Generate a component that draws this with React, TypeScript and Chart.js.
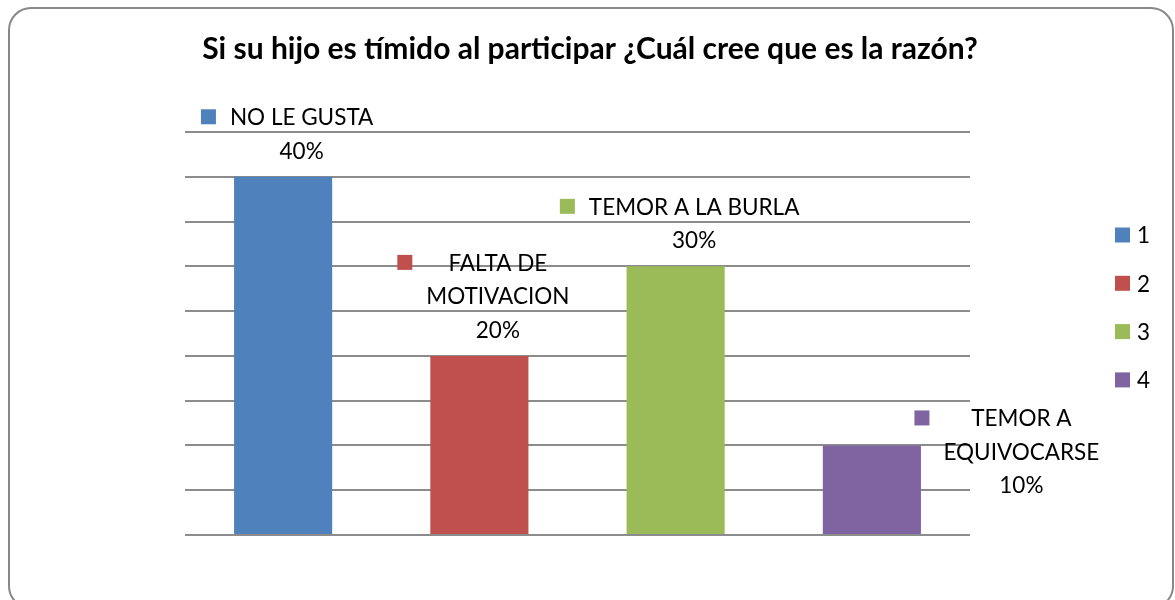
import { useEffect, useRef } from 'react';
import { Chart, registerables } from 'chart.js';

Chart.register(...registerables);

const TITLE = 'Si su hijo es tímido al participar ¿Cuál cree que es la razón?';
const categories = ['1', '2', '3', '4'];
const reasonLines = [['NO LE GUSTA'], ['FALTA DE', 'MOTIVACION'], ['TEMOR A LA BURLA'], ['TEMOR A', 'EQUIVOCARSE']];
const values = [40, 20, 30, 10];
const percentLabels = ['40%', '20%', '30%', '10%'];
const colors = ['#4F81BD', '#C0504D', '#9BBB59', '#8064A2'];
const labelOffsets = [[4, 0], [4, 0], [4, 0], [135, 66]];
const Y_MAX = 45;
const Y_STEP = 5;

const FONT = 'Lato, "Open Sans", sans-serif';

const decorPlugin = {
  id: 'decor',
  afterDraw(chart: any) {
    const ctx = chart.ctx as CanvasRenderingContext2D;
    ctx.save();
    // frame
    ctx.strokeStyle = '#888888';
    ctx.lineWidth = 2;
    ctx.beginPath();
    (ctx as any).roundRect(9, 8, 1164, 600, 22);
    ctx.stroke();

    // title
    ctx.fillStyle = '#000';
    ctx.textBaseline = 'middle';
    ctx.textAlign = 'center';
    ctx.font = `bold 30px ${FONT}`;
    ctx.fillText(TITLE, 590, 49);

    // data labels
    const meta = chart.getDatasetMeta(0);
    const fontSize = 22.5;
    const lineH = 33.5;
    const keySize = 15;
    const gap = 14;
    ctx.font = `${fontSize}px ${FONT}`;
    meta.data.forEach((bar: any, i: number) => {
      const lines = [...reasonLines[i], percentLabels[i]];
      const widths = lines.map((l) => ctx.measureText(l).width);
      const w = Math.max(...widths);
      const blockW = keySize + gap + w;
      const cx = bar.x + labelOffsets[i][0];
      const left = cx - blockW / 2;
      const textCx = left + keySize + gap + w / 2;
      const lastY = bar.y - 26.5 + labelOffsets[i][1];
      const firstY = lastY - (lines.length - 1) * lineH;
      ctx.fillStyle = colors[i];
      ctx.fillRect(left, firstY - keySize / 2, keySize, keySize);
      ctx.fillStyle = '#000';
      ctx.textAlign = 'center';
      lines.forEach((l, k) => ctx.fillText(l, textCx, firstY + k * lineH + 1));
    });

    // legend
    ctx.textAlign = 'left';
    categories.forEach((c, i) => {
      const y = 235 + i * 48.3;
      ctx.fillStyle = colors[i];
      ctx.fillRect(1115, y - 7.5, 15, 15);
      ctx.fillStyle = '#000';
      ctx.fillText(c, 1137, y + 1);
    });
    ctx.restore();
  },
};

export default function App() {
  const ref = useRef<HTMLCanvasElement>(null);
  useEffect(() => {
    if (!ref.current) return;
    const chart = new Chart(ref.current, {
      type: 'bar',
      data: {
        labels: categories,
        datasets: [
          {
            data: values,
            backgroundColor: colors,
            borderWidth: 0,
            categoryPercentage: 1,
            barPercentage: 0.5,
          },
        ],
      },
      options: {
        responsive: false,
        animation: false,
        layout: { padding: { left: 185, right: 205, top: 132, bottom: 65 } },
        plugins: { legend: { display: false }, tooltip: { enabled: false }, title: { display: false } },
        scales: {
          x: { display: false },
          y: {
            min: 0,
            max: Y_MAX,
            ticks: { display: false, stepSize: Y_STEP },
            grid: { color: '#8c8c8c', lineWidth: 2, drawTicks: false },
            border: { display: false },
          },
        },
      },
      plugins: [decorPlugin],
    });
    return () => chart.destroy();
  }, []);
  return (
    <div style={{ position: 'absolute', left: 0, top: 0, width: 1175, height: 600, background: '#fff' }}>
      <canvas ref={ref} width={1175} height={600} style={{ display: 'block' }} />
    </div>
  );
}
